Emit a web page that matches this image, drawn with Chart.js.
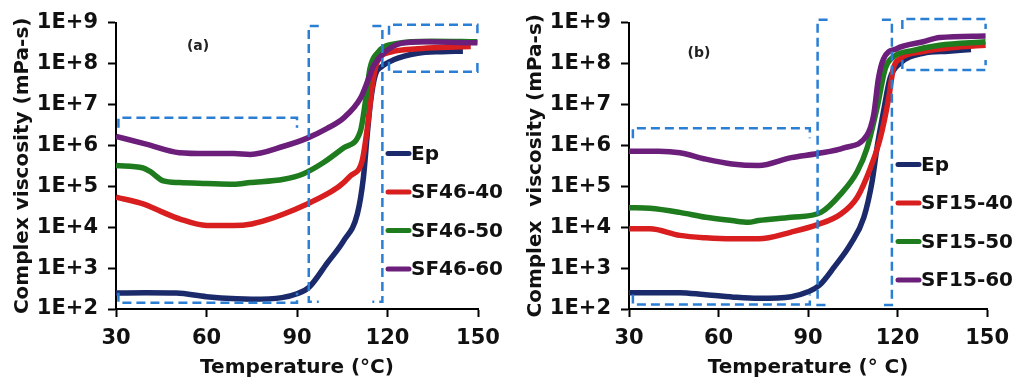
<!DOCTYPE html>
<html>
<head>
<meta charset="utf-8">
<script src="https://cdn.jsdelivr.net/npm/chart.js@4.4.1/dist/chart.umd.min.js"></script>
<style>
  html, body { margin: 0; padding: 0; background: #fff; }
  #wrap { position: relative; width: 1018px; height: 380px; }
  #wrap canvas { position: absolute; top: 0; }
  #chartA { left: 0; }
  #chartB { left: 513px; }
</style>
</head>
<body>
<div id="wrap">
  <canvas id="chartA" width="513" height="380"></canvas>
  <canvas id="chartB" width="505" height="380"></canvas>
</div>
<script>
// Panel (a): SF46 series, temperature (°C) vs complex viscosity (mPa-s)
const epA_T   = [30, 40, 50, 60, 70, 75, 85, 90, 94, 100, 105.5, 110, 112, 113.3, 114.4, 116, 118, 122, 130, 138, 145];
const epA_eta = [245, 250, 245, 200, 178, 174, 190, 235, 340, 1320, 4700, 2.1e4, 1.6e5, 1.9e6, 1.2e7, 5.4e7, 8.3e7, 1.23e8, 1.78e8, 1.95e8, 2.0e8];
const sf4640_T   = [30, 39, 45, 51, 60, 69, 75, 80, 85.6, 93.4, 100, 104, 107.7, 111.6, 113.3, 115, 116.6, 121, 130, 140, 147.6];
const sf4640_eta = [5.4e4, 3.7e4, 2.4e4, 1.6e4, 1.1e4, 1.1e4, 1.2e4, 1.5e4, 2.1e4, 3.7e4, 6.5e4, 1.0e5, 1.8e5, 4.2e5, 2.6e6, 3.0e7, 1.1e8, 1.9e8, 2.3e8, 2.5e8, 2.6e8];
const sf4650_T   = [30, 39, 41.3, 45.7, 51, 60, 69, 74.5, 85.6, 92, 98.8, 105.5, 111, 112.7, 114.2, 116.6, 123.2, 134.3, 149.8];
const sf4650_eta = [3.2e5, 2.8e5, 2.3e5, 1.35e5, 1.23e5, 1.17e5, 1.12e5, 1.23e5, 1.48e5, 2.0e5, 3.8e5, 8.7e5, 2.2e6, 1.2e7, 7.6e7, 1.8e8, 3.1e8, 3.5e8, 3.4e8];
const sf4660_T   = [30, 40, 51, 60, 69, 74.5, 85.6, 93.4, 100, 105.5, 111, 113.8, 115.5, 118.8, 124.4, 132, 149.8];
const sf4660_eta = [1.66e6, 1.07e6, 6.6e5, 6.3e5, 6.3e5, 6.0e5, 9.5e5, 1.5e6, 2.6e6, 4.7e6, 1.4e7, 4.4e7, 9.1e7, 1.8e8, 3.1e8, 3.4e8, 3.2e8];

// Panel (b): SF15 series
const epB_T   = [30, 40, 47, 55, 65, 73.4, 84.4, 90, 93.8, 98.8, 104.3, 108.7, 111.5, 113.1, 115.3, 117.5, 120.8, 128.6, 137, 144.6];
const epB_eta = [250, 250, 250, 225, 195, 182, 200, 263, 380, 1070, 3900, 1.74e4, 1.35e5, 8.7e5, 6.8e6, 4.4e7, 1.0e8, 1.78e8, 2.0e8, 2.2e8];
const sf1540_T   = [30, 37, 47, 55.7, 64.5, 73.4, 84.4, 93.2, 101, 106.5, 110.9, 114.2, 117, 118.6, 120.8, 128.6, 140, 149.5];
const sf1540_eta = [9.1e3, 9.1e3, 6.3e3, 5.5e3, 5.2e3, 5.2e3, 7.6e3, 1.15e4, 2.1e4, 5.4e4, 2.8e5, 1.5e6, 1.4e7, 7.6e7, 1.3e8, 1.95e8, 2.5e8, 2.8e8];
const sf1550_T   = [30, 37, 47, 55.7, 64.5, 70, 73.4, 84.4, 94.3, 101, 106.5, 109.8, 113.1, 115.9, 118.6, 125.3, 134.1, 149.5];
const sf1550_eta = [3.0e4, 2.9e4, 2.3e4, 1.74e4, 1.45e4, 1.32e4, 1.45e4, 1.74e4, 2.3e4, 6.5e4, 2.3e5, 8.7e5, 8.1e6, 7.6e7, 1.45e8, 2.1e8, 2.8e8, 3.4e8];
const sf1560_T   = [30, 40, 47, 55.7, 64.5, 73.4, 84.4, 93.2, 102, 109.8, 112, 113.6, 115.3, 119.7, 128.6, 134.1, 149.5];
const sf1560_eta = [7.2e5, 7.2e5, 6.6e5, 4.6e5, 3.5e5, 3.2e5, 5.0e5, 6.3e5, 8.7e5, 1.8e6, 5.6e6, 4.4e7, 1.3e8, 2.3e8, 3.4e8, 4.3e8, 4.7e8];

const labelsA = ['Ep', 'SF46-40', 'SF46-50', 'SF46-60'];
const labelsB = ['Ep', 'SF15-40', 'SF15-50', 'SF15-60'];
const xTicks = [30, 60, 90, 120, 150];
const yTicks = [1e2, 1e3, 1e4, 1e5, 1e6, 1e7, 1e8, 1e9];

// dashed regions, in temperature / viscosity units
const regionsA = [
  { x0: 30.8, x1: 90, lo: 142, hi: 4.7e6, long: 'h' },
  { x0: 93.9, x1: 118.3, lo: 150, hi: 8.3e8, long: 'v' },
  { x0: 120.5, x1: 149.8, lo: 6.3e7, hi: 8.9e8, long: 'h' }
];
const regionsB = [
  { x0: 31.3, x1: 90.6, lo: 129, hi: 2.6e6, long: 'h' },
  { x0: 93.2, x1: 118.1, lo: 126, hi: 1.17e9, long: 'v' },
  { x0: 121.6, x1: 149.5, lo: 6.9e7, hi: 1.23e9, long: 'h' }
];

const COLORS = ['#1b2a6b', '#d81e1e', '#1e7b1e', '#6b1f7b'];
const FONT = '"DejaVu Sans", sans-serif';
const INK = '#111';

const toPoints = (ts, vs) => ts.map((t, i) => ({ x: t, y: vs[i] }));

// dashed boxes: the long sides are drawn in full, the short ones only as corner stubs
const dashedRegions = {
  id: 'dashedRegions',
  afterDatasetsDraw(chart, args, opts) {
    const { ctx, scales: { x, y } } = chart;
    const s = 10;
    ctx.save();
    ctx.strokeStyle = '#2a7fd4';
    ctx.lineWidth = 2.5;
    ctx.setLineDash([9, 5]);
    opts.regions.forEach(b => {
      const l = x.getPixelForValue(b.x0), r = x.getPixelForValue(b.x1);
      const t = y.getPixelForValue(b.hi), btm = y.getPixelForValue(b.lo);
      ctx.beginPath();
      if (b.long === 'h') {
        ctx.moveTo(l, t + s); ctx.lineTo(l, t); ctx.lineTo(r, t); ctx.lineTo(r, t + s);
        ctx.moveTo(l, btm - s); ctx.lineTo(l, btm); ctx.lineTo(r, btm); ctx.lineTo(r, btm - s);
      } else {
        ctx.moveTo(l + s, t); ctx.lineTo(l, t); ctx.lineTo(l, btm); ctx.lineTo(l + s, btm);
        ctx.moveTo(r - s, t); ctx.lineTo(r, t); ctx.lineTo(r, btm); ctx.lineTo(r - s, btm);
      }
      ctx.stroke();
    });
    ctx.restore();
  }
};

// legend sits inside the plot, plus the panel tag
const inlineLegend = {
  id: 'inlineLegend',
  afterDraw(chart, args, opts) {
    const { ctx, chartArea } = chart;
    ctx.save();
    ctx.font = 'bold 20px ' + FONT;
    ctx.textBaseline = 'middle';
    ctx.fillStyle = INK;
    chart.data.datasets.forEach((ds, i) => {
      const lx = chartArea.left + opts.x;
      const ly = chartArea.top + opts.y + i * opts.gap;
      ctx.strokeStyle = ds.borderColor;
      ctx.lineWidth = 5;
      ctx.lineCap = 'round';
      ctx.beginPath();
      ctx.moveTo(lx, ly);
      ctx.lineTo(lx + 21, ly);
      ctx.stroke();
      ctx.fillText(ds.label, lx + 23, ly + 1);
    });
    ctx.font = 'bold 14px ' + FONT;
    ctx.textAlign = 'center';
    ctx.fillStyle = '#222';
    ctx.fillText(opts.tag, opts.tagX, opts.tagY);
    ctx.restore();
  }
};

function makeChart(id, series, labels, regions, o) {
  const datasets = series.map((pts, i) => ({
    label: labels[i],
    data: pts,
    borderColor: COLORS[i],
    backgroundColor: COLORS[i],
    borderWidth: 5.5,
    pointRadius: 0,
    cubicInterpolationMode: 'monotone',
    order: series.length - i
  }));

  return new Chart(document.getElementById(id), {
    type: 'line',
    data: { datasets },
    plugins: [dashedRegions, inlineLegend],
    options: {
      responsive: false,
      animation: false,
      devicePixelRatio: 1,
      layout: { padding: { top: 21, right: o.padRight, bottom: 0, left: 0 } },
      plugins: {
        legend: { display: false },
        tooltip: { enabled: false },
        dashedRegions: { regions },
        inlineLegend: { x: o.legX, y: o.legY, gap: 38.5, tag: o.tag, tagX: o.tagX, tagY: o.tagY }
      },
      scales: {
        x: {
          type: 'linear',
          min: 30,
          max: 150,
          afterBuildTicks: s => { s.ticks = xTicks.map(v => ({ value: v })); },
          afterFit: s => { s.height = 71; },
          border: { color: '#000', width: 2 },
          grid: { drawOnChartArea: false, tickLength: 8, tickColor: '#000', tickWidth: 2 },
          ticks: { color: INK, font: { family: FONT, size: 21, weight: 'bold' }, padding: 9, maxRotation: 0 },
          title: { display: true, text: o.xTitle, color: INK, font: { family: FONT, size: 20, weight: 'bold' }, padding: { top: 11, bottom: 0 } }
        },
        y: {
          type: 'logarithmic',
          min: 1e2,
          max: 1e9,
          afterBuildTicks: s => { s.ticks = yTicks.map(v => ({ value: v, major: true })); },
          afterFit: s => { s.width = 116; },
          border: { color: '#000', width: 2 },
          grid: { drawOnChartArea: false, tickLength: 8, tickColor: '#000', tickWidth: 2 },
          ticks: {
            color: INK,
            font: { family: FONT, size: 21, weight: 'bold' },
            padding: 10,
            callback: v => '1E+' + Math.round(Math.log10(v))
          },
          title: { display: true, text: o.yTitle, color: INK, font: { family: FONT, size: 20, weight: 'bold' }, padding: { top: 11, bottom: 0 } }
        }
      }
    }
  });
}

makeChart('chartA',
  [toPoints(epA_T, epA_eta), toPoints(sf4640_T, sf4640_eta), toPoints(sf4650_T, sf4650_eta), toPoints(sf4660_T, sf4660_eta)],
  labelsA, regionsA,
  { padRight: 35, legX: 272, legY: 131, tag: '(a)', tagX: 198, tagY: 46,
    xTitle: 'Temperature (°C)', yTitle: 'Complex viscosity (mPa-s)' });

makeChart('chartB',
  [toPoints(epB_T, epB_eta), toPoints(sf1540_T, sf1540_eta), toPoints(sf1550_T, sf1550_eta), toPoints(sf1560_T, sf1560_eta)],
  labelsB, regionsB,
  { padRight: 27, legX: 269, legY: 142, tag: '(b)', tagX: 186, tagY: 53,
    xTitle: 'Temperature (° C)', yTitle: 'Complex  viscosity (mPa-s)' });
</script>
</body>
</html>
